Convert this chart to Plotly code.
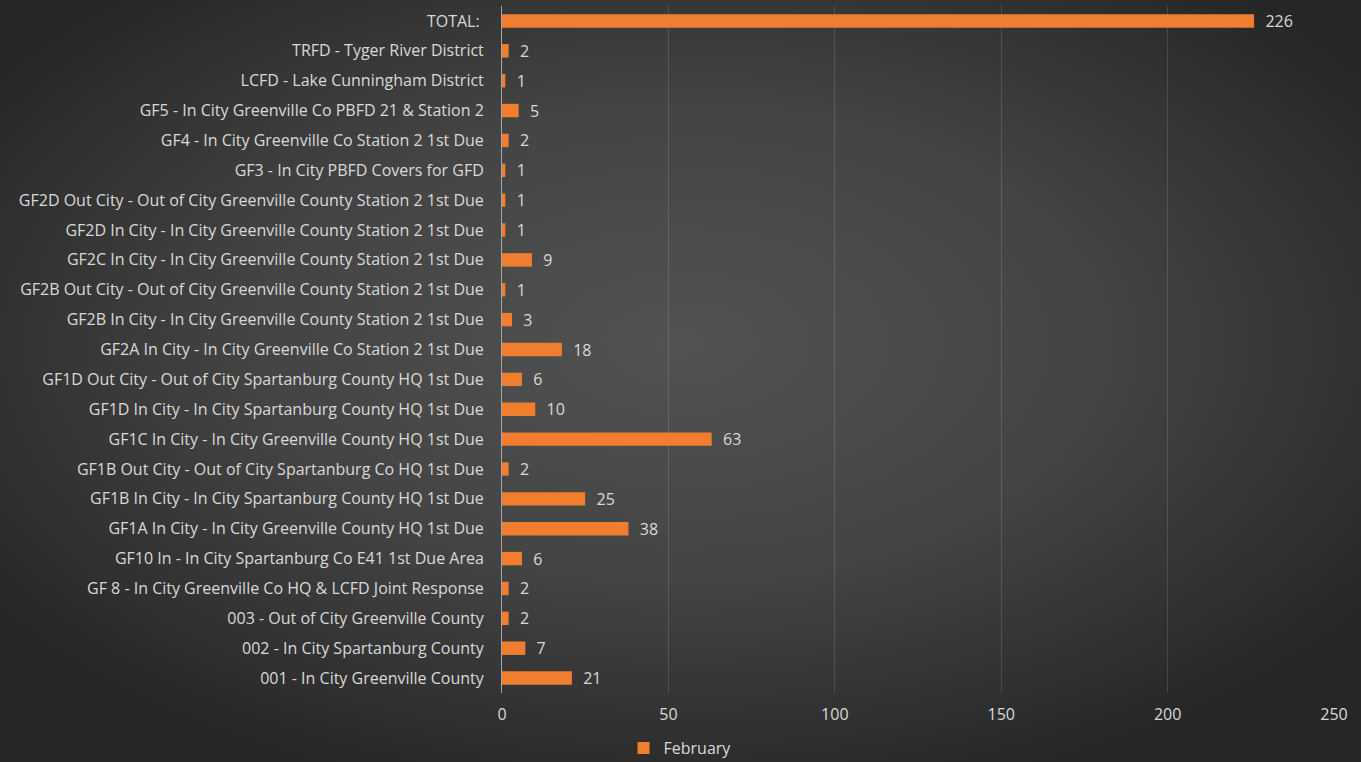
import base64
import plotly.graph_objects as go

categories = [
    "TOTAL:\u00a0",
    "TRFD - Tyger River District",
    "LCFD - Lake Cunningham District",
    "GF5 - In City Greenville Co PBFD 21 & Station 2",
    "GF4 - In City Greenville Co Station 2 1st Due",
    "GF3 - In City PBFD Covers for GFD",
    "GF2D Out City - Out of City Greenville County Station 2 1st Due",
    "GF2D In City - In City Greenville County Station 2 1st Due",
    "GF2C In City - In City Greenville County Station 2 1st Due",
    "GF2B Out City - Out of City Greenville County Station 2 1st Due",
    "GF2B In City - In City Greenville County Station 2 1st Due",
    "GF2A In City - In City Greenville Co Station 2 1st Due",
    "GF1D Out City - Out of City Spartanburg County HQ 1st Due",
    "GF1D In City - In City Spartanburg County HQ 1st Due",
    "GF1C In City - In City Greenville County HQ 1st Due",
    "GF1B Out City - Out of City Spartanburg Co HQ 1st Due",
    "GF1B In City - In City Spartanburg County HQ 1st Due",
    "GF1A In City - In City Greenville County HQ 1st Due",
    "GF10 In - In City Spartanburg Co E41 1st Due Area",
    "GF 8 - In City Greenville Co HQ & LCFD Joint Response",
    "003 - Out of City Greenville County",
    "002 - In City Spartanburg County",
    "001 - In City Greenville County",
]
february = [226, 2, 1, 5, 2, 1, 1, 1, 9, 1, 3, 18, 6, 10, 63, 2, 25, 38, 6, 2, 2, 7, 21]
series_name = "February"
x_ticks = [0, 50, 100, 150, 200, 250]

W, H = 1361, 762
ML, MR, MT, MB = 502, 27, 6, 69
PW, PH = W - ML - MR, H - MT - MB

svg = f'''<svg xmlns="http://www.w3.org/2000/svg" width="{W}" height="{H}" viewBox="0 0 {W} {H}" preserveAspectRatio="none">
<defs><radialGradient id="g" cx="50%" cy="45%" r="62%" fx="50%" fy="45%">
<stop offset="0" stop-color="#525252"/><stop offset="0.5" stop-color="#444444"/><stop offset="1" stop-color="#262626"/>
</radialGradient></defs>
<rect width="{W}" height="{H}" fill="url(#g)"/></svg>'''
bg = "data:image/svg+xml;base64," + base64.b64encode(svg.encode()).decode()

FONT = "Open Sans"
TXT = "#D9D9D9"
FS = 16

fig = go.Figure()
fig.add_trace(go.Bar(
    x=february, y=categories, orientation="h", name=series_name,
    marker=dict(color="#F07E2E", line=dict(width=0)),
    text=[f"\u00a0\u00a0{v}" for v in february], textposition="outside",
    constraintext="none",
    textfont=dict(color=TXT, size=FS, family=FONT),
    cliponaxis=False, width=0.45,
))

fig.update_layout(
    width=W, height=H,
    margin=dict(l=ML, r=MR, t=MT, b=MB),
    paper_bgcolor="#333333", plot_bgcolor="rgba(0,0,0,0)",
    font=dict(family=FONT, color=TXT, size=FS),
    showlegend=True,
    legend=dict(orientation="h", x=(680 - ML) / PW, xanchor="center",
                yref="container", y=(H - 748) / H, yanchor="middle",
                font=dict(size=FS, color=TXT), bgcolor="rgba(0,0,0,0)",
                itemwidth=30),
    images=[dict(source=bg, xref="paper", yref="paper",
                 x=-ML / PW, y=1 + MT / PH, sizex=W / PW, sizey=H / PH,
                 xanchor="left", yanchor="top", sizing="stretch", layer="below")],
    xaxis=dict(range=[0, 250], tickvals=x_ticks, showgrid=True, gridcolor="rgba(255,255,255,0.13)",
               gridwidth=1, zeroline=False, showline=False, ticks="",
               tickfont=dict(size=FS, color=TXT), ticklabelstandoff=10),
    yaxis=dict(autorange="reversed", showgrid=False, showline=True, linecolor="#A6A6A6",
               linewidth=1, ticks="", tickfont=dict(size=FS, color=TXT),
               ticklabelstandoff=14),
    bargap=0.55,
)

fig.write_html("out.html", config={"displayModeBar": False},
               post_script="document.body.style.margin='0';document.body.style.padding='0';")
